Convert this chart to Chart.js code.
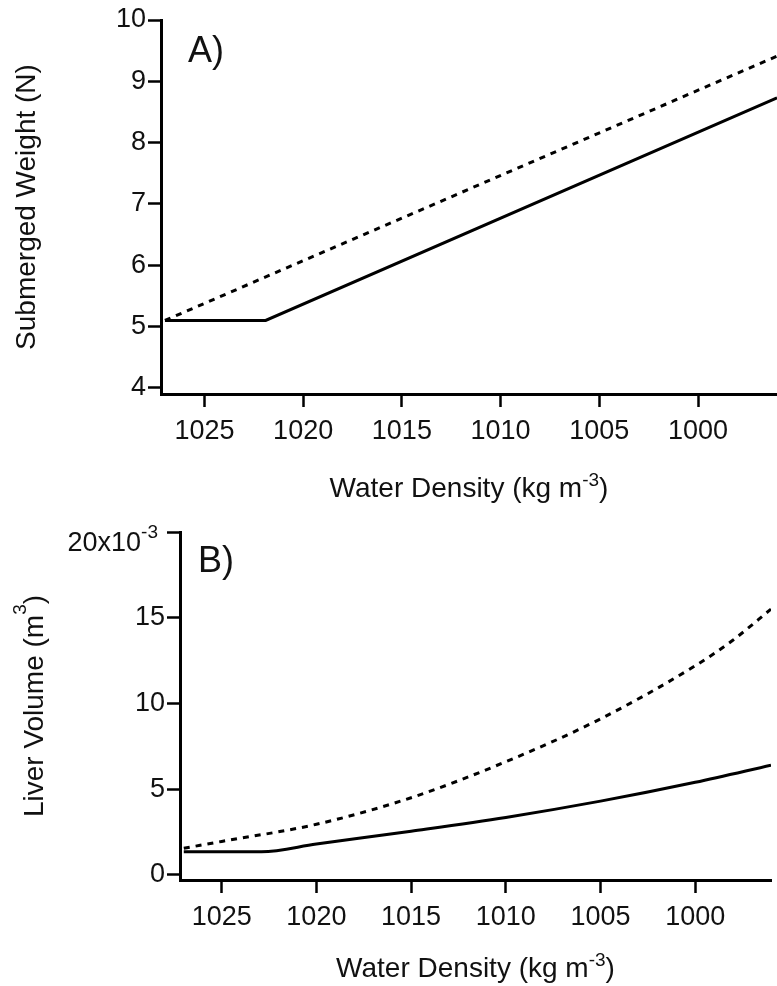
<!DOCTYPE html>
<html>
<head>
<meta charset="utf-8">
<script src="https://cdn.jsdelivr.net/npm/chart.js@4.4.0/dist/chart.umd.min.js"></script>
<style>
  body { margin: 0; background: #fff; }
  canvas { position: absolute; left: 0; }
  #chartA { top: 0; }
  #chartB { top: 510px; }
</style>
</head>
<body>
<canvas id="chartA" width="777" height="510"></canvas>
<canvas id="chartB" width="777" height="476"></canvas>
<script>
// Panel A: submerged weight (N) vs water density (kg m-3)
const densityA_solid = [1027, 1021.9, 996];
const weightA_solid = [5.1, 5.1, 8.73];
const densityA_dashed = [1027, 996];
const weightA_dashed = [5.1, 9.41];

// Panel B: liver volume (x10^-3 m^3) vs water density
const densityB_solid = [1027, 1022.9, 1020, 1015, 1010, 1005, 1000, 996];
const volumeB_solid = [1.35, 1.35, 1.8, 2.55, 3.35, 4.3, 5.4, 6.4];
const densityB_dashed = [1027, 1025, 1020, 1015, 1010, 1005, 1000, 998, 996];
const volumeB_dashed = [1.55, 1.95, 2.95, 4.5, 6.6, 9.1, 12.2, 13.7, 15.5];

const densityTicks = [1025, 1020, 1015, 1010, 1005, 1000];
const weightTicks = [4, 5, 6, 7, 8, 9, 10];
const volumeTicks = [0, 5, 10, 15, 20];

const FONT = "'Liberation Sans', Arial, sans-serif";
const INK = "#111";

function toXY(xs, ys) {
  return xs.map((x, i) => ({ x: x, y: ys[i] }));
}

// text with superscript parts: [[text, isSup], ...]
function drawRich(ctx, parts, x, y, align, size, supSize, raise) {
  const widths = parts.map(([t, sup]) => {
    ctx.font = (sup ? supSize : size) + "px " + FONT;
    return ctx.measureText(t).width;
  });
  const total = widths.reduce((a, b) => a + b, 0);
  let cx = align === "center" ? x - total / 2 : align === "right" ? x - total : x;
  ctx.textAlign = "left";
  ctx.textBaseline = "alphabetic";
  ctx.fillStyle = INK;
  parts.forEach(([t, sup], i) => {
    ctx.font = (sup ? supSize : size) + "px " + FONT;
    ctx.fillText(t, cx, sup ? y - raise : y);
    cx += widths[i];
  });
}

function lineSet(data, dashed, smooth) {
  return {
    data: data,
    borderColor: "#000",
    borderWidth: 3,
    borderDash: dashed ? [6, 6] : [],
    pointRadius: 0,
    fill: false,
    tension: 0,
    cubicInterpolationMode: smooth ? "monotone" : "default"
  };
}

function axisX(height) {
  return {
    type: "linear",
    reverse: true,
    min: 996,
    max: 1027.2,
    afterBuildTicks: s => { s.ticks = densityTicks.map(v => ({ value: v })); },
    afterFit: s => { s.height = height; },
    grid: { drawOnChartArea: false, tickLength: 13, tickWidth: 2.5, tickColor: "#000" },
    border: { color: "#000", width: 3 },
    ticks: {
      font: { family: FONT, size: 27 }, color: INK, padding: 8,
      maxRotation: 0, autoSkip: false, callback: v => String(v)
    }
  };
}

function axisY(min, max, tickVals, width, cb) {
  return {
    type: "linear",
    min: min,
    max: max,
    afterBuildTicks: s => { s.ticks = tickVals.map(v => ({ value: v })); },
    afterFit: s => { s.width = width; },
    grid: { drawOnChartArea: false, tickLength: 13, tickWidth: 2.5, tickColor: "#000" },
    border: { color: "#000", width: 3 },
    ticks: { font: { family: FONT, size: 27 }, color: INK, padding: 2, autoSkip: false, callback: cb }
  };
}

const labelsA = {
  id: "labelsA",
  afterDraw(chart) {
    const ctx = chart.ctx;
    const a = chart.chartArea;
    ctx.save();
    drawRich(ctx, [["A)", false]], 188, 62, "left", 36, 20, 0);
    drawRich(ctx, [["Water Density (kg m", false], ["-3", true], [")", false]],
      (a.left + a.right) / 2, 497, "center", 28, 19, 11);
    ctx.translate(35, (a.top + a.bottom) / 2);
    ctx.rotate(-Math.PI / 2);
    drawRich(ctx, [["Submerged Weight (N)", false]], 0, 0, "center", 28, 19, 0);
    ctx.restore();
  }
};

const labelsB = {
  id: "labelsB",
  afterDraw(chart) {
    const ctx = chart.ctx;
    const a = chart.chartArea;
    const yTop = chart.scales.y.getPixelForValue(20);
    ctx.save();
    drawRich(ctx, [["B)", false]], 198, 62, "left", 36, 20, 0);
    drawRich(ctx, [["20x10", false], ["-3", true]], 158, yTop + 19, "right", 27, 19, 13);
    drawRich(ctx, [["Water Density (kg m", false], ["-3", true], [")", false]],
      (a.left + a.right) / 2, 467, "center", 28, 19, 11);
    ctx.translate(43, (a.top + a.bottom) / 2);
    ctx.rotate(-Math.PI / 2);
    drawRich(ctx, [["Liver Volume (m", false], ["3", true], [")", false]], 0, 0, "center", 28, 19, 17);
    ctx.restore();
  }
};

const baseOptions = (padding, xHeight, yAxis) => ({
  responsive: false,
  animation: false,
  devicePixelRatio: 1,
  layout: { padding: padding },
  plugins: { legend: { display: false }, tooltip: { enabled: false } },
  scales: { x: axisX(xHeight), y: yAxis }
});

new Chart(document.getElementById("chartA").getContext("2d"), {
  type: "line",
  data: {
    datasets: [
      lineSet(toXY(densityA_dashed, weightA_dashed), true, false),
      lineSet(toXY(densityA_solid, weightA_solid), false, false)
    ]
  },
  options: baseOptions({ top: 20, left: 0, right: 0, bottom: 0 }, 116,
    axisY(3.9, 10, weightTicks, 161, v => String(v))),
  plugins: [labelsA]
});

new Chart(document.getElementById("chartB").getContext("2d"), {
  type: "line",
  data: {
    datasets: [
      lineSet(toXY(densityB_dashed, volumeB_dashed), true, true),
      lineSet(toXY(densityB_solid, volumeB_solid), false, true)
    ]
  },
  options: baseOptions({ top: 22, left: 0, right: 6, bottom: 0 }, 106,
    axisY(-0.3, 20, volumeTicks, 180, v => (v === 20 ? "" : String(v)))),
  plugins: [labelsB]
});
</script>
</body>
</html>
